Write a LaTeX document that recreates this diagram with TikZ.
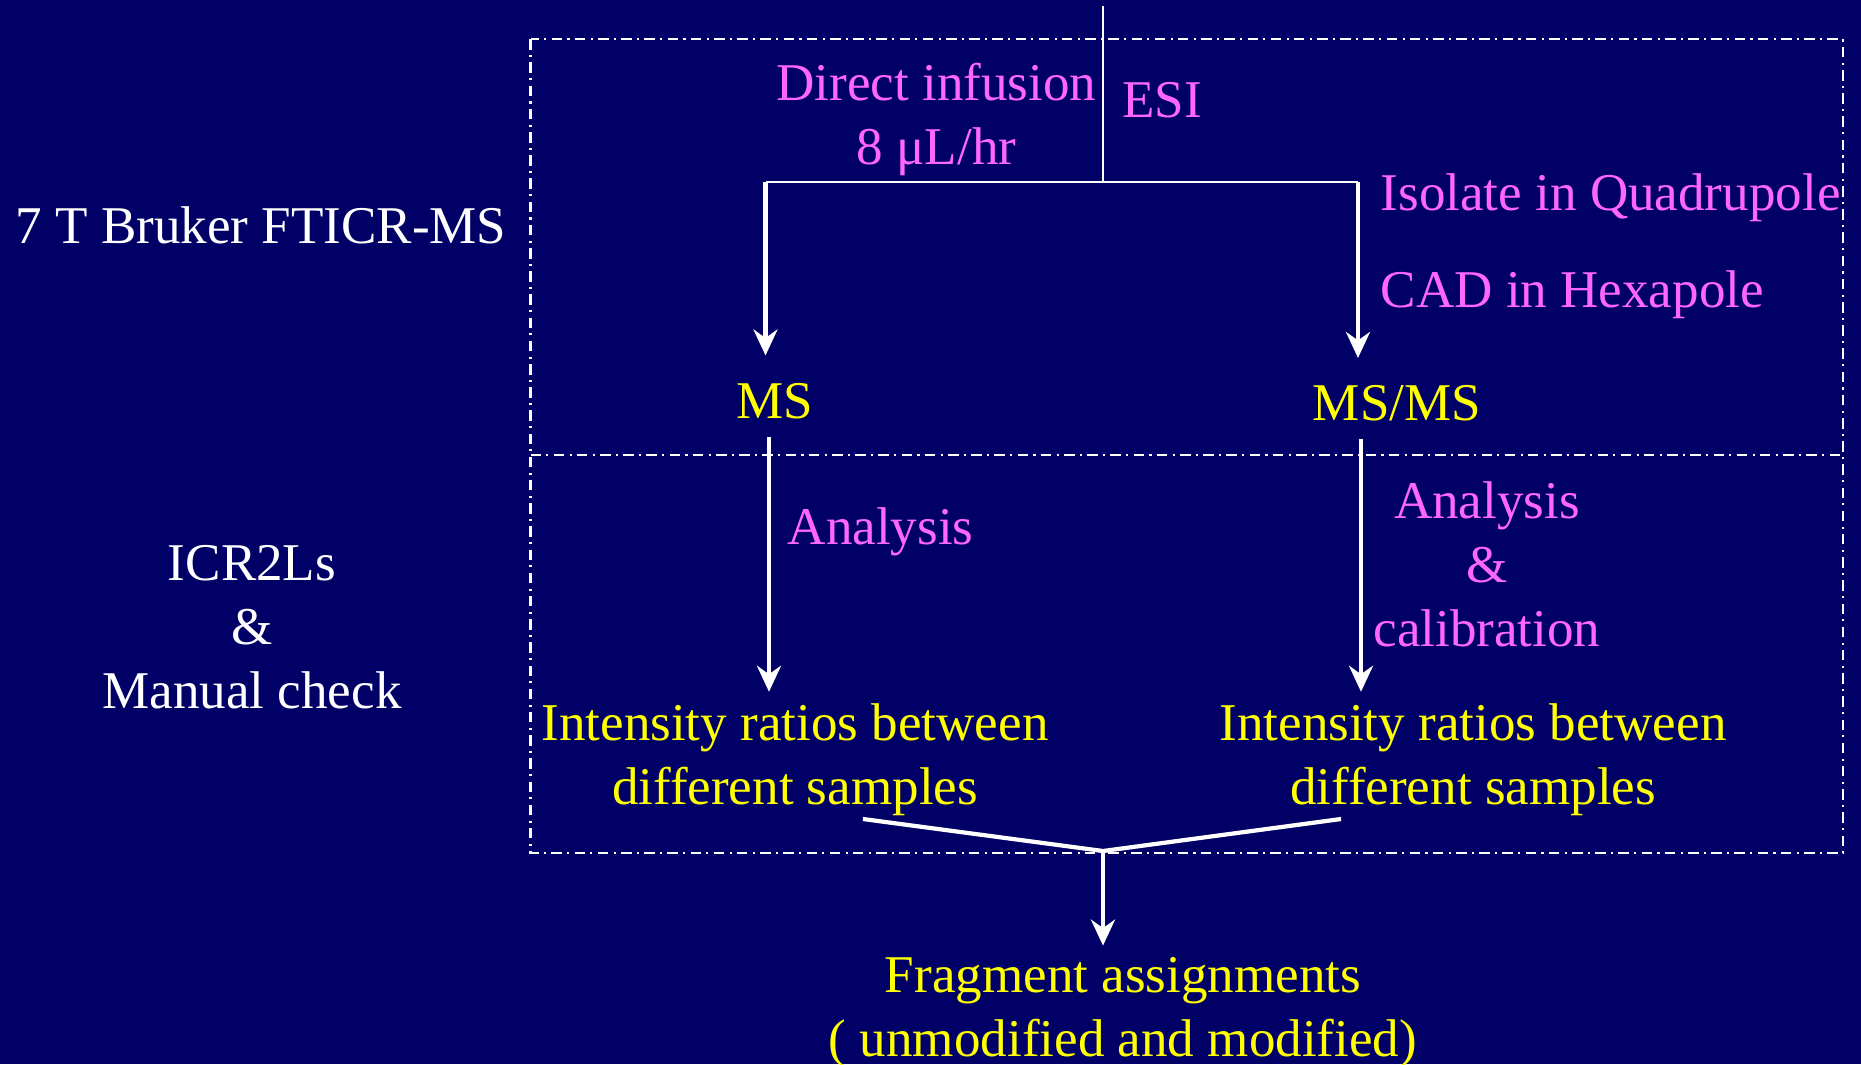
\documentclass[tikz,border=0pt]{standalone}
\usepackage{fontspec}
\setmainfont{Liberation Serif}
\usepackage{xcolor}
\usetikzlibrary{arrows.meta, positioning, calc}

\definecolor{slidebg}{RGB}{0,0,102}
\definecolor{steptext}{RGB}{255,102,255}
\definecolor{resulttext}{RGB}{255,255,0}

\begin{document}
\begin{tikzpicture}[
    >={Stealth[length=2.6mm, width=2.4mm]},
    every node/.style={font=\fontsize{15.1}{18.2}\selectfont, inner sep=0pt},
    stage/.style={text=white, align=center},
    steplabel/.style={text=steptext, align=center},
    result/.style={text=resulttext, align=center},
    flow/.style={white, line width=1.2pt},
    feed/.style={white, line width=0.6pt},
    frame/.style={white, line width=0.6pt, dash pattern=on 3pt off 1.5pt on 0.6pt off 1.5pt},
]
    % ── Slide background ──────────────────────────
    \fill[slidebg] (0,0) rectangle (18.61,-10.64);
    \useasboundingbox (0,0) rectangle (18.61,-10.64);

    % ── Dash-dot frames ───────────────────────────
    \draw[frame] (5.305,-0.392) rectangle (18.43,-8.534);
    \draw[frame] (5.305,-4.546) -- (18.43,-4.546);

    % ── Stage labels (left) ───────────────────────
    \node[stage] (fticr) at (2.61,-2.255) {7 T Bruker FTICR-MS};
    \node[stage] (icr2ls) at (2.52,-6.27) {ICR2Ls\\\&\\Manual check};

    % ── Sample inlet ──────────────────────────────
    \coordinate (source) at (11.03,-0.06);
    \coordinate (split)  at (11.03,-1.816);
    \coordinate (splitL) at (7.655,-1.816);
    \coordinate (splitR) at (13.58,-1.816);
    \draw[feed] (source) -- (split);
    \draw[feed] (splitL) -- (splitR);
    \node[steplabel] (infusion) at (9.365,-1.19) {Direct infusion\\8 μL/hr};
    \node[steplabel, anchor=west] (esi) at (11.215,-1.0) {ESI};

    % ── Acquisition ───────────────────────────────
    \node[result] (ms) at (7.75,-4.01) {MS};
    \node[result] (msms) at (13.97,-4.035) {MS/MS};
    \node[steplabel, anchor=west] (isolate) at (13.80,-1.975) {Isolate in Quadrupole};
    \node[steplabel, anchor=west] (cad) at (13.80,-2.95) {CAD in Hexapole};
    \draw[flow, ->] (splitL) -- ([yshift=2.7mm]splitL |- ms.north);
    \draw[flow, ->] (splitR) -- ([yshift=2.7mm]splitR |- msms.north);

    % ── Data analysis ─────────────────────────────
    \node[result] (ratioL) at (7.95,-7.595) {Intensity ratios between\\different samples};
    \node[result] (ratioR) at (14.73,-7.595) {Intensity ratios between\\different samples};
    \node[steplabel, anchor=west] (analysisL) at (7.87,-5.315) {Analysis};
    \node[steplabel] (analysisR) at (14.87,-5.64) {Analysis\\\&\\calibration};
    \draw[flow, ->] ([yshift=-1.7mm]ms.south -| 7.69,0) -- ([yshift=1.1mm]ratioL.north -| 7.69,0);
    \draw[flow, ->] ([yshift=-1.7mm]msms.south -| 13.61,0) -- ([yshift=1.1mm]ratioR.north -| 13.61,0);

    % ── Merge to assignments ──────────────────────
    \coordinate (merge)  at (11.03,-8.51);
    \coordinate (mergeL) at (8.63,-8.19);
    \coordinate (mergeR) at (13.41,-8.19);
    \node[result] (fragment) at (11.23,-10.125) {Fragment assignments\\( unmodified and modified)};
    \draw[flow] (mergeL) -- (merge) -- (mergeR);
    \draw[flow, ->] (merge) -- ([yshift=1.1mm]merge |- fragment.north);
\end{tikzpicture}
\end{document}
